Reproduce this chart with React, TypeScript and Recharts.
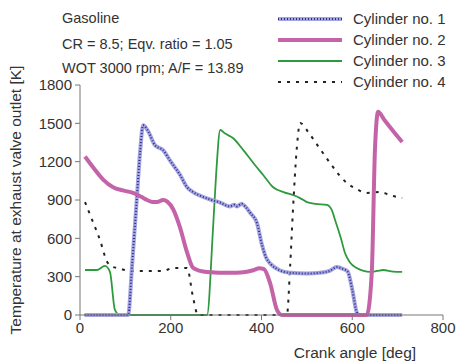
import React from 'react';
import { LineChart, Line, XAxis, YAxis } from 'recharts';

// crank angle [deg], temperature [K]
const cylinder1: [number, number][] = [
    [10, 0], [106, 0], [115, 400], [125, 900], [133, 1300], [139, 1485], [150, 1440], [165, 1330],
    [183, 1290], [200, 1200], [220, 1100], [236, 1000], [250, 960], [264, 935], [290, 900], [309, 880],
    [330, 850], [340, 862], [346, 850], [356, 870], [364, 850], [375, 800], [390, 720], [401, 550],
    [410, 450], [420, 400], [440, 350], [463, 330], [500, 325], [529, 330], [550, 345], [566, 375],
    [580, 360], [590, 340], [600, 200], [610, 20], [615, 0], [710, 0],
];
const cylinder2: [number, number][] = [
    [11, 1240], [30, 1150], [51, 1060], [73, 1000], [95, 975], [117, 955], [135, 925], [148, 900],
    [160, 885], [170, 884], [183, 900], [193, 885], [205, 830], [220, 690], [236, 490], [249, 370],
    [265, 345], [280, 337], [331, 330], [360, 335], [382, 350], [395, 365], [405, 360], [419, 250],
    [434, 40], [445, 0], [632, 0], [643, 330], [650, 1290], [657, 1590], [670, 1530], [690, 1440],
    [710, 1354],
];
const cylinder3: [number, number][] = [
    [11, 352], [37, 352], [55, 384], [66, 337], [77, 40], [88, 0], [280, 0], [293, 665], [300, 1100],
    [309, 1448], [320, 1420], [337, 1385], [360, 1290], [382, 1190], [405, 1090], [425, 1002],
    [450, 960], [469, 939], [485, 915], [500, 884], [520, 870], [544, 861], [555, 820], [562, 745],
    [575, 600], [584, 485], [595, 410], [610, 368], [625, 345], [639, 337], [655, 345], [668, 352],
    [690, 340], [710, 337],
];
const cylinder4: [number, number][] = [
    [11, 884], [25, 760], [44, 587], [60, 415], [70, 380], [82, 368], [117, 344], [183, 344],
    [205, 368], [236, 368], [249, 141], [260, 0], [456, 0], [463, 376], [469, 798], [478, 1315],
    [485, 1503], [503, 1432], [525, 1320], [551, 1190], [570, 1100], [588, 1033], [610, 985],
    [632, 955], [661, 963], [685, 935], [710, 916],
];

const xTicks = [0, 200, 400, 600, 800];
const yTicks = [0, 300, 600, 900, 1200, 1500, 1800];
const legendNames = ['Cylinder no. 1', 'Cylinder no. 2', 'Cylinder no. 3', 'Cylinder no. 4'];
const notes = ['Gasoline', 'CR = 8.5; Eqv. ratio = 1.05', 'WOT 3000 rpm; A/F = 13.89'];

const toRows = (pts: [number, number][]) => pts.map(([x, y]) => ({ x, y }));

const font = 'Liberation Sans, Arial, sans-serif';
const textColor = '#333';
const axisColor = '#777';

const LegendSwatch = ({ i, y }: { i: number; y: number }) => {
    if (i === 0) {
        return (
            <g>
                <line x1={278} x2={342} y1={y} y2={y} stroke="#a4a4e0" strokeWidth={4} />
                <line x1={278} x2={342} y1={y} y2={y} stroke="#2e2e8c" strokeWidth={2} strokeDasharray="1 2" />
            </g>
        );
    }
    if (i === 1) return <line x1={278} x2={342} y1={y} y2={y} stroke="#c463a8" strokeWidth={4} />;
    if (i === 2) return <line x1={278} x2={342} y1={y} y2={y} stroke="#2e9a3e" strokeWidth={1.8} />;
    return <line x1={278} x2={342} y1={y} y2={y} stroke="#222" strokeWidth={2} strokeDasharray="3 6" />;
};

export default function App() {
    const legendY = [19, 40, 61, 82];
    const noteY = [18, 44, 68];
    return (
        <div style={{ position: 'absolute', left: 0, top: 0, width: 456, height: 362, background: '#fff' }}>
            <LineChart
                width={456}
                height={362}
                margin={{ top: 85, right: 13, bottom: 17, left: 0 }}
            >
                <XAxis
                    type="number"
                    dataKey="x"
                    domain={[0, 800]}
                    ticks={xTicks}
                    allowDuplicatedCategory={false}
                    height={30}
                    stroke={axisColor}
                    tickSize={5}
                    tickMargin={2}
                    tick={{ fill: textColor, fontSize: 15, fontFamily: font }}
                />
                <YAxis
                    type="number"
                    dataKey="y"
                    domain={[0, 1800]}
                    ticks={yTicks}
                    width={80}
                    stroke={axisColor}
                    tickSize={5}
                    tickMargin={3}
                    tick={{ fill: textColor, fontSize: 15, fontFamily: font }}
                />
                <Line data={toRows(cylinder3)} dataKey="y" type="monotone" stroke="#2e9a3e" strokeWidth={1.8} dot={false} isAnimationActive={false} />
                <Line data={toRows(cylinder4)} dataKey="y" type="monotone" stroke="#222" strokeWidth={2} strokeDasharray="3 6" dot={false} isAnimationActive={false} />
                <Line data={toRows(cylinder1)} dataKey="y" type="monotone" stroke="#a4a4e0" strokeWidth={4} dot={false} isAnimationActive={false} />
                <Line data={toRows(cylinder1)} dataKey="y" type="monotone" stroke="#2e2e8c" strokeWidth={2} strokeDasharray="1 2" dot={false} isAnimationActive={false} />
                <Line data={toRows(cylinder2)} dataKey="y" type="monotone" stroke="#c463a8" strokeWidth={4} dot={false} isAnimationActive={false} />
            </LineChart>
            <svg width={456} height={362} style={{ position: 'absolute', left: 0, top: 0, pointerEvents: 'none' }}>
                {notes.map((t, i) => (
                    <text key={t} x={62} y={noteY[i]} dominantBaseline="central" fontSize={14.5} fontFamily={font} fill={textColor}>{t}</text>
                ))}
                {legendNames.map((t, i) => (
                    <g key={t}>
                        <LegendSwatch i={i} y={legendY[i]} />
                        <text x={353} y={legendY[i] - 1} dominantBaseline="central" fontSize={15} fontFamily={font} fill={textColor}>{t}</text>
                    </g>
                ))}
                <text
                    transform="translate(15,200) rotate(-90)"
                    textAnchor="middle"
                    dominantBaseline="central"
                    fontSize={15.5}
                    fontFamily={font}
                    fill={textColor}
                >
                    Temperature at exhaust valve outlet [K]
                </text>
                <text x={355} y={352} textAnchor="middle" dominantBaseline="central" fontSize={15.5} fontFamily={font} fill={textColor}>
                    Crank angle [deg]
                </text>
            </svg>
        </div>
    );
}
